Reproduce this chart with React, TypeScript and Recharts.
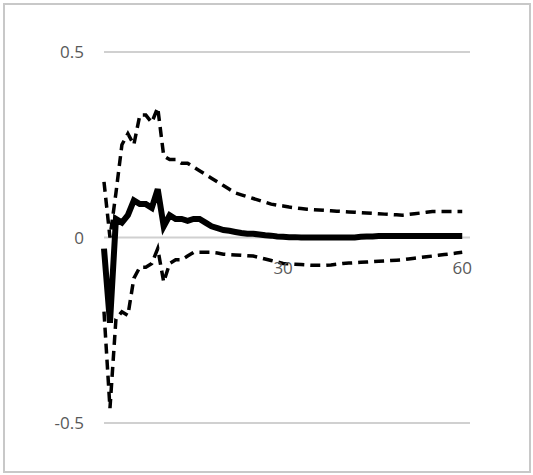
import { LineChart, Line, XAxis, YAxis, CartesianGrid, ReferenceDot } from 'recharts';

// impulse response (solid) with upper / lower bands (dashed), periods 0..60
const mid = [
  -0.03, -0.23, 0.05, 0.04, 0.06, 0.1, 0.09, 0.09, 0.08, 0.13,
  0.03, 0.06, 0.05, 0.05, 0.045, 0.05, 0.05, 0.04, 0.03, 0.025,
  0.02, 0.018, 0.015, 0.012, 0.01, 0.01, 0.008, 0.006, 0.005, 0.003,
  0.002, 0.001, 0.001, 0, 0, 0, 0, 0, 0, 0,
  0, 0, 0, 0.002, 0.003, 0.003, 0.004, 0.004, 0.004, 0.004,
  0.004, 0.004, 0.004, 0.004, 0.004, 0.004, 0.004, 0.004, 0.004, 0.004, 0.004,
];
const upper = [
  0.15, 0.0, 0.12, 0.25, 0.28, 0.25, 0.33, 0.33, 0.31, 0.35,
  0.22, 0.21, 0.21, 0.2, 0.2, 0.19, 0.18, 0.17, 0.16, 0.15,
  0.14, 0.13, 0.12, 0.115, 0.11, 0.105, 0.1, 0.095, 0.09, 0.087,
  0.085, 0.082, 0.08, 0.078, 0.076, 0.075, 0.074, 0.073, 0.072, 0.071,
  0.07, 0.069, 0.068, 0.067, 0.066, 0.065, 0.064, 0.063, 0.062, 0.061,
  0.06, 0.062, 0.064, 0.066, 0.068, 0.07, 0.07, 0.07, 0.07, 0.07, 0.07,
];
const lower = [
  -0.2, -0.46, -0.22, -0.2, -0.21, -0.11, -0.08, -0.08, -0.07, -0.03,
  -0.12, -0.07, -0.06, -0.06, -0.05, -0.04, -0.04, -0.04, -0.04, -0.042,
  -0.045, -0.046, -0.047, -0.048, -0.049, -0.05, -0.054, -0.058, -0.062, -0.066,
  -0.07, -0.071, -0.072, -0.073, -0.074, -0.075, -0.075, -0.075, -0.074, -0.072,
  -0.07, -0.069, -0.068, -0.067, -0.066, -0.065, -0.064, -0.063, -0.062, -0.061,
  -0.06, -0.058, -0.056, -0.054, -0.052, -0.05, -0.048, -0.046, -0.044, -0.042, -0.04,
];
const yTicks = [-0.5, 0, 0.5];
const xTicks = [30, 60];

const data = mid.map((v, i) => ({ t: i, mid: v, upper: upper[i], lower: lower[i] }));
const font = { fontFamily: '"Open Sans", sans-serif', fontSize: 17, fill: '#595959' };

export default function App() {
  return (
    <div style={{ position: 'absolute', left: 0, top: 0, width: 533, height: 475, background: '#fff' }}>
      <div style={{ position: 'absolute', left: 3, top: 3, width: 524, height: 466, border: '2px solid #c8c8c8' }} />
      <LineChart width={533} height={475} data={data} margin={{ top: 52, right: 63, bottom: 52, left: 14 }}>
        <CartesianGrid horizontal vertical={false} stroke="#d0d0d0" strokeWidth={2} />
        <XAxis dataKey="t" type="number" domain={[0, 61.3]} hide />
        <YAxis domain={[-0.5, 0.5]} ticks={yTicks} width={90} axisLine={false} tickLine={false}
          tickMargin={14} tick={font} tickFormatter={(v: number) => String(v)} />
        <Line dataKey="upper" stroke="#000" strokeWidth={3.5} strokeDasharray="10 6" dot={false} isAnimationActive={false} />
        <Line dataKey="lower" stroke="#000" strokeWidth={3.5} strokeDasharray="10 6" dot={false} isAnimationActive={false} />
        <Line dataKey="mid" stroke="#000" strokeWidth={6} dot={false} isAnimationActive={false} />
        {xTicks.map((x) => (
          <ReferenceDot key={x} x={x} y={0} r={0} fill="none" stroke="none"
            label={{ value: String(x), position: 'bottom', offset: 24, ...font }} />
        ))}
      </LineChart>
    </div>
  );
}
